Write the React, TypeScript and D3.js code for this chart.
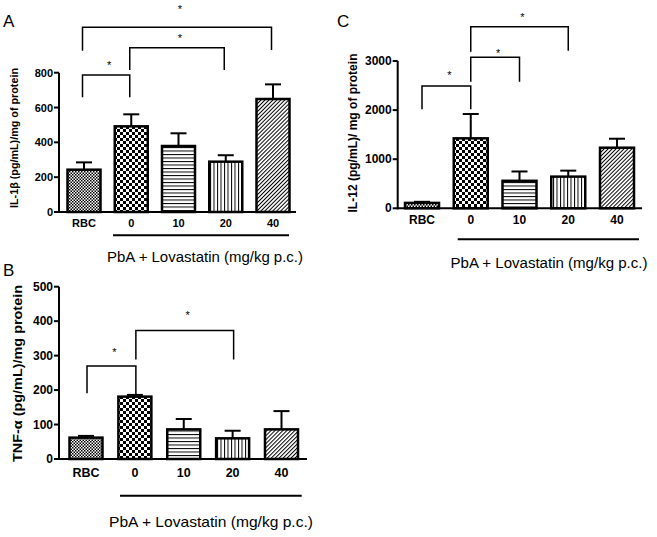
import React from "react";
import * as d3 from "d3";

const categories = ["RBC", "0", "10", "20", "40"];

// Panel A: IL-1β
const il1bMean = [243, 492, 379, 289, 649];
const il1bSem = [42, 69, 73, 37, 84];
const il1bTicks = [0, 200, 400, 600, 800];

// Panel B: TNF-α
const tnfMean = [62, 181, 86, 60, 86];
const tnfSem = [5, 5, 30, 22, 53];
const tnfTicks = [0, 100, 200, 300, 400, 500];

// Panel C: IL-12
const il12Mean = [110, 1425, 560, 645, 1234];
const il12Sem = [22, 495, 190, 122, 183];
const il12Ticks = [0, 1000, 2000, 3000];

// significance brackets (values in the panel's y units)
const bracketsA = [
  { a: "RBC", b: "0", h: 787, la: 659, lb: 659, star: 861 },
  { a: "0", b: "20", h: 944, la: 815, lb: 815, star: 1016 },
  { a: "RBC", b: "40", h: 1061, la: 926, lb: 930, star: 1179 },
];
const bracketsB = [
  { a: "RBC", b: "0", h: 270, la: 191, lb: 186, star: 319 },
  { a: "0", b: "20", h: 373, la: 289, lb: 289, star: 424 },
];
const bracketsC = [
  { a: "RBC", b: "0", h: 2491, la: 2016, lb: 2016, star: 2762 },
  { a: "0", b: "10", h: 3077, la: 2578, lb: 2578, star: 3210 },
  { a: "0", b: "20", h: 3699, la: 3189, lb: 3210, star: 3937 },
];

const groupLabel = "PbA + Lovastatin (mg/kg p.c.)";
const FONT = "Liberation Sans, Arial, Helvetica, sans-serif";
const fills = ["url(#pRBC)", "url(#p0)", "url(#p10)", "url(#p20)", "url(#p40)"];

type PanelProps = {
  letter: string; letterX: number; letterY: number;
  ylabel: string; ylabelX: number; ylabelY: number; ylabelSize: number; ylabelLen: number;
  mean: number[]; sem: number[]; ticks: number[];
  y0: number; y1: number; axisX: number; axisEnd: number;
  c0: number; c1: number; bw: number;
  tickSize: number; xTickSize: number; xLabelY: number;
  brackets: { a: string; b: string; h: number; la: number; lb: number; star: number }[];
  bOff: number;
  lineY: number; lineX0: number; lineX1: number;
  glX: number; glY: number; glSize: number; glLen: number;
};

function Panel(p: PanelProps) {
  const max = p.ticks[p.ticks.length - 1];
  const y = d3.scaleLinear().domain([0, max]).range([p.y0, p.y1]);
  const x = d3.scalePoint<string>().domain(categories).range([p.c0, p.c1]);
  return (
    <g fontFamily={FONT}>
      <text x={p.letterX} y={p.letterY} fontSize={17}>{p.letter}</text>
      <text
        transform={`translate(${p.ylabelX},${p.ylabelY}) rotate(-90)`}
        textAnchor="middle" dominantBaseline="middle"
        fontSize={p.ylabelSize} fontWeight="bold"
        textLength={p.ylabelLen} lengthAdjust="spacingAndGlyphs"
      >{p.ylabel}</text>
      {categories.map((c, i) => (
        <rect key={c} x={(x(c) as number) - p.bw / 2} y={y(p.mean[i])}
          width={p.bw} height={p.y0 - y(p.mean[i])}
          fill={fills[i]} stroke="#000" strokeWidth={2.5} />
      ))}
      {categories.map((c, i) => {
        const cx = x(c) as number;
        const top = y(p.mean[i] + p.sem[i]);
        return (
          <g key={c} stroke="#000" strokeWidth={2}>
            <line x1={cx} x2={cx} y1={y(p.mean[i])} y2={top} />
            <line x1={cx - 8} x2={cx + 8} y1={top} y2={top} />
          </g>
        );
      })}
      {/* axes */}
      <line x1={p.axisX} x2={p.axisX} y1={p.y0 + 1} y2={p.y1} stroke="#000" strokeWidth={2} />
      <line x1={p.axisX - 1} x2={p.axisEnd} y1={p.y0} y2={p.y0} stroke="#000" strokeWidth={2} />
      {p.ticks.map((t) => (
        <g key={t}>
          <line x1={p.axisX - 5} x2={p.axisX} y1={y(t)} y2={y(t)} stroke="#000" strokeWidth={2} />
          <text x={p.axisX - 6} y={y(t)} textAnchor="end" dominantBaseline="central"
            fontSize={p.tickSize} fontWeight="bold">{t}</text>
        </g>
      ))}
      {categories.map((c) => (
        <text key={c} x={x(c) as number} y={p.xLabelY} textAnchor="middle" dominantBaseline="central"
          fontSize={p.xTickSize} fontWeight="bold">{c}</text>
      ))}
      {/* brackets */}
      {p.brackets.map((b, i) => {
        const xa = (x(b.a) as number) + p.bOff;
        const xb = (x(b.b) as number) + p.bOff;
        return (
          <g key={i}>
            <path d={`M${xa},${y(b.la)}V${y(b.h)}H${xb}V${y(b.lb)}`} fill="none" stroke="#000" strokeWidth={1.5} />
            <text x={(xa + xb) / 2 + 3} y={y(b.star) + 6.5} textAnchor="middle" fontSize={11}>*</text>
          </g>
        );
      })}
      <line x1={p.lineX0} x2={p.lineX1} y1={p.lineY} y2={p.lineY} stroke="#000" strokeWidth={2} />
      <text x={p.glX} y={p.glY} textAnchor="middle" dominantBaseline="central" fontSize={p.glSize}
        textLength={p.glLen} lengthAdjust="spacingAndGlyphs">{groupLabel}</text>
    </g>
  );
}

export default function App() {
  return (
    <div style={{ position: "fixed", left: 0, top: 0 }}>
      <svg width={657} height={537} style={{ display: "block", background: "#fff" }}>
        <defs>
          <pattern id="pRBC" patternUnits="userSpaceOnUse" width={3} height={3}>
            <rect width={3} height={3} fill="#fff" />
            <rect width={1.5} height={1.5} fill="#000" />
            <rect x={1.5} y={1.5} width={1.5} height={1.5} fill="#000" />
          </pattern>
          <pattern id="p0" patternUnits="userSpaceOnUse" width={6} height={6}>
            <rect width={6} height={6} fill="#fff" />
            <rect width={3} height={3} fill="#000" />
            <rect x={3} y={3} width={3} height={3} fill="#000" />
          </pattern>
          <pattern id="p10" patternUnits="userSpaceOnUse" width={4} height={3.5}>
            <rect width={4} height={3.5} fill="#fff" />
            <rect width={4} height={1} fill="#000" />
          </pattern>
          <pattern id="p20" patternUnits="userSpaceOnUse" width={3.5} height={4}>
            <rect width={3.5} height={4} fill="#fff" />
            <rect width={1} height={4} fill="#000" />
          </pattern>
          <pattern id="p40" patternUnits="userSpaceOnUse" width={2.8} height={4} patternTransform="rotate(45)">
            <rect width={2.8} height={4} fill="#fff" />
            <rect width={1} height={4} fill="#000" />
          </pattern>
        </defs>
        <Panel
          letter="A" letterX={3} letterY={27}
          ylabel="IL-1β (pg/mL)/mg of protein" ylabelX={15} ylabelY={138} ylabelSize={11.5} ylabelLen={140}
          mean={il1bMean} sem={il1bSem} ticks={il1bTicks}
          y0={212} y1={72.7} axisX={59} axisEnd={296}
          c0={84} c1={273} bw={33} tickSize={11} xTickSize={11} xLabelY={223}
          brackets={bracketsA} bOff={-1.5}
          lineY={235.3} lineX0={113} lineX1={289}
          glX={205} glY={257} glSize={14} glLen={196}
        />
        <Panel
          letter="B" letterX={3} letterY={276}
          ylabel="TNF-α (pg/mL)/mg protein" ylabelX={18} ylabelY={373.5} ylabelSize={13.5} ylabelLen={177}
          mean={tnfMean} sem={tnfSem} ticks={tnfTicks}
          y0={459} y1={286.7} axisX={59} axisEnd={307}
          c0={86} c1={281.5} bw={33} tickSize={12} xTickSize={12.5} xLabelY={473}
          brackets={bracketsB} bOff={1}
          lineY={495.7} lineX0={120} lineX1={301.7}
          glX={211} glY={521.7} glSize={14.5} glLen={204}
        />
        <Panel
          letter="C" letterX={337} letterY={27}
          ylabel="IL-12 (pg/mL)/ mg of protein" ylabelX={354} ylabelY={133} ylabelSize={12.5} ylabelLen={159}
          mean={il12Mean} sem={il12Sem} ticks={il12Ticks}
          y0={208.3} y1={61} axisX={397.7} axisEnd={642}
          c0={422} c1={617} bw={34} tickSize={12} xTickSize={12} xLabelY={220}
          brackets={bracketsC} bOff={0}
          lineY={239.3} lineX0={457.7} lineX1={639}
          glX={549} glY={263.3} glSize={14} glLen={197}
        />
      </svg>
    </div>
  );
}
